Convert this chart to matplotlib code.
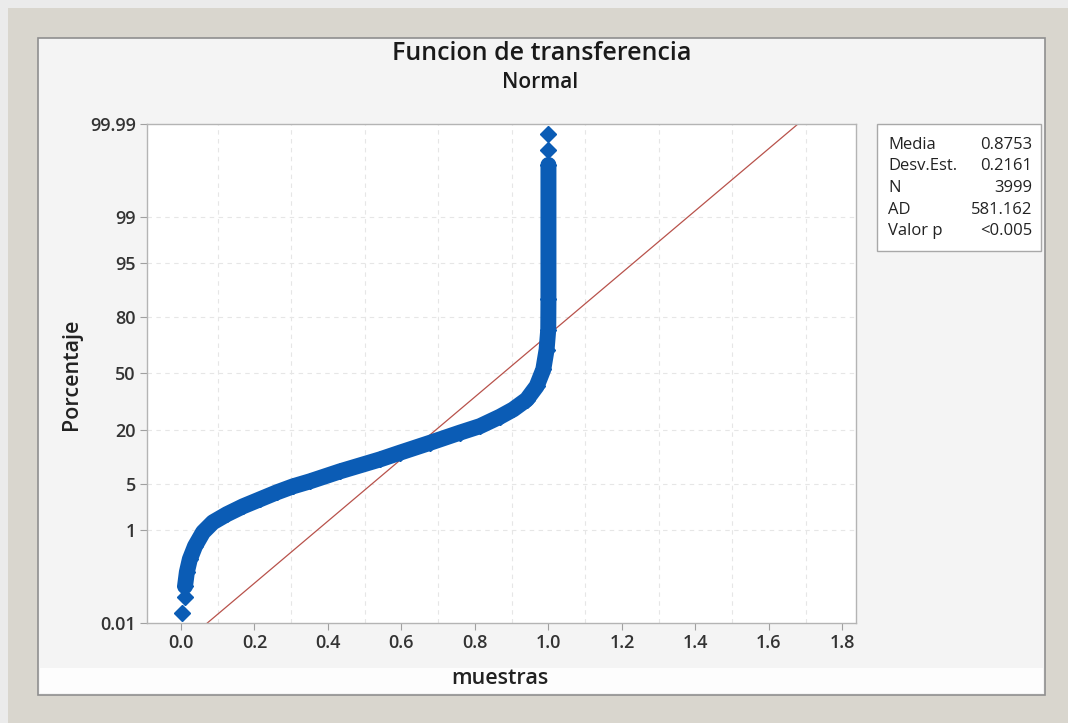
import numpy as np
import matplotlib
matplotlib.use("Agg")
import matplotlib.pyplot as plt
from matplotlib.patches import Rectangle
from statistics import NormalDist

plt.rcParams['font.family'] = ['Open Sans', 'DejaVu Sans']

# cumulative percent vs. sample value
pct = [0.018, 0.043, 0.076, 0.154, 0.28, 0.50, 0.90, 1.33, 1.80, 2.39, 3.04,
       3.83, 4.63, 5.40, 7.24, 10.03, 11.9, 15.1, 18.9, 21.65, 25.97, 29.6,
       34.9, 42.5, 52.4, 63.9, 74.4, 86.5, 99.906, 99.957, 99.982]
vals = [0.004, 0.010, 0.011, 0.016, 0.024, 0.038, 0.060, 0.087, 0.125, 0.169,
        0.215, 0.261, 0.305, 0.351, 0.433, 0.542, 0.596, 0.678, 0.759, 0.814,
        0.868, 0.904, 0.941, 0.968, 0.986, 0.995, 0.9995, 1.0, 1.0, 1.0, 1.0]

media = 0.8753
desv = 0.2161

stat_names = ["Media", "Desv.Est.", "N", "AD", "Valor p"]
stat_vals = ["0.8753", "0.2161", "3999", "581.162", "<0.005"]

yticks = [0.01, 1, 5, 20, 50, 80, 95, 99, 99.99]
ytick_labels = ["0.01", "1", "5", "20", "50", "80", "95", "99", "99.99"]
xticks = [0.0, 0.2, 0.4, 0.6, 0.8, 1.0, 1.2, 1.4, 1.6, 1.8]

nd = NormalDist()
_ppf = np.vectorize(lambda p: nd.inv_cdf(p), otypes=[float])
_cdf = np.vectorize(lambda z: nd.cdf(z), otypes=[float])


def forward(p):
    p = np.clip(np.asarray(p, dtype=float) / 100.0, 1e-9, 1 - 1e-9)
    return _ppf(p)


def inverse(z):
    return _cdf(np.asarray(z, dtype=float)) * 100.0


W, H = 1068, 723
fig = plt.figure(figsize=(W / 100, H / 100), dpi=100)
fig.patch.set_facecolor('#ebebeb')

# frame and panel
fig.add_artist(Rectangle((8 / W, 0), 1 - 8 / W, 1 - 8 / H, transform=fig.transFigure,
                         fc='#d9d6ce', ec='none', zorder=-10))
fig.add_artist(Rectangle((38 / W, 1 - 695 / H), (1045 - 38) / W, (695 - 38) / H,
                         transform=fig.transFigure, fc='#f4f4f4', ec='#8f8f8f', lw=1.2, zorder=-9))
fig.add_artist(Rectangle((40 / W, 1 - 693 / H), (1043 - 40) / W, 25 / H,
                         transform=fig.transFigure, fc='#fdfdfd', ec='none', zorder=-8))

ax = fig.add_axes([147 / W, 1 - 623 / H, (856 - 147) / W, (623 - 124) / H])
ax.set_yscale('function', functions=(forward, inverse))
ax.set_facecolor('white')

blue = '#0b5cb5'
ax.plot(vals[2:-2], pct[2:-2], color=blue, lw=11.5, solid_capstyle='round',
        solid_joinstyle='round', zorder=3)
ax.plot(vals, pct, 'D', color=blue, ms=8.5, mec=blue, zorder=4)

# fitted normal line
zl = np.array([nd.inv_cdf(0.0001), nd.inv_cdf(0.9999)])
ax.plot(media + desv * zl, [0.01, 99.99], color='#b8524b', lw=0.9, zorder=2)

ax.set_xlim(-0.0925, 1.837)
ax.set_ylim(0.01, 99.99)
ax.set_yticks(yticks)
ax.set_yticklabels(ytick_labels)
ax.set_xticks(xticks)
ax.set_xticklabels([f"{t:.1f}" for t in xticks])
ax.minorticks_off()

for v in np.arange(0.1, 1.81, 0.2):
    ax.axvline(v, color='#e6e6e6', lw=0.8, ls=(0, (4, 4)), zorder=0)
for v in yticks[1:-1]:
    ax.axhline(v, color='#e6e6e6', lw=0.8, ls=(0, (4, 4)), zorder=0)

ax.tick_params(direction='out', length=5, color='#a0a0a0', labelsize=13,
               labelcolor='#333333', pad=3)
for lbl in ax.get_xticklabels() + ax.get_yticklabels():
    lbl.set_fontweight('semibold')
for s in ax.spines.values():
    s.set_color('#b4b4b4')
    s.set_linewidth(1)

fig.text(542 / W, 1 - 53 / H, "Funcion de transferencia", ha='center', va='center',
         fontsize=18, fontweight='semibold', color='#1a1a1a')
fig.text(540 / W, 1 - 83 / H, "Normal", ha='center', va='center',
         fontsize=15, fontweight='semibold', color='#1a1a1a')
fig.text(500 / W, 1 - 678 / H, "muestras", ha='center', va='center',
         fontsize=15.5, fontweight='semibold', color='#222222')
fig.text(72 / W, 1 - 374 / H, "Porcentaje", ha='center', va='center', rotation=90,
         fontsize=15.5, fontweight='semibold', color='#222222')

# stats box
fig.add_artist(Rectangle((877 / W, 1 - 251 / H), (1041 - 877) / W, (251 - 124) / H,
                         transform=fig.transFigure, fc='white', ec='#a8a8a8', lw=1))
row_y = [145, 166, 188, 210, 231]
for name, val, py in zip(stat_names, stat_vals, row_y):
    fig.text(888 / W, 1 - py / H, name, ha='left', va='center', fontsize=12, color='#222222')
    fig.text(1032 / W, 1 - py / H, val, ha='right', va='center', fontsize=12, color='#222222')

fig.savefig("out.png", dpi=100)
